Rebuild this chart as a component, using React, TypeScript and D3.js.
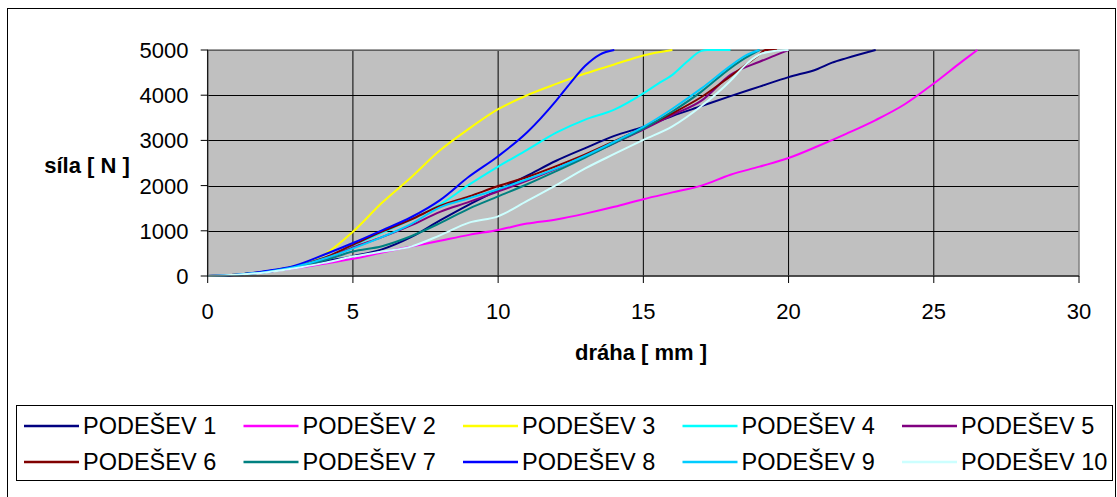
import React from "react";
import * as d3 from "d3";

// Force–displacement curves for ten sole samples (PODEŠEV 1–10)
type Pt = [number, number];

const xTicks = [0, 5, 10, 15, 20, 25, 30];
const yTicks = [0, 1000, 2000, 3000, 4000, 5000];

const seriesNames = [
  "PODEŠEV 1", "PODEŠEV 2", "PODEŠEV 3", "PODEŠEV 4", "PODEŠEV 5",
  "PODEŠEV 6", "PODEŠEV 7", "PODEŠEV 8", "PODEŠEV 9", "PODEŠEV 10",
];

const seriesColors = [
  "#000080", "#FF00FF", "#FFFF00", "#00FFFF", "#800080",
  "#800000", "#008080", "#0000FF", "#00CCFF", "#CCFFFF",
];

const podesev1: Pt[] = [[0,0],[1,30],[2,90],[3,190],[4,320],[5,440],[6,590],[7,860],[8,1230],[9,1580],[10,1900],[11,2220],[12,2550],[13,2830],[14,3100],[15,3300],[16,3540],[17,3760],[18,3980],[19,4190],[20,4400],[21,4580],[21.5,4720],[22,4820],[23,5000]];
const podesev2: Pt[] = [[0,0],[1,30],[2,90],[3,170],[4,270],[5,380],[6,520],[7,650],[8,780],[9,910],[10,1020],[11,1160],[12,1250],[13,1380],[14,1530],[15,1700],[16,1850],[17,2000],[18,2240],[19,2420],[20,2610],[21,2870],[22,3150],[23,3450],[24,3800],[25,4260],[26,4760],[26.5,5000]];
const podesev3: Pt[] = [[0,0],[1,30],[2,100],[3,220],[4,470],[5,980],[6,1620],[7,2180],[8,2780],[9,3260],[10,3690],[11,4000],[12,4250],[13,4480],[14,4680],[15,4880],[16,5000]];
const podesev4: Pt[] = [[0,0],[1,30],[2,100],[3,210],[4,400],[5,680],[6,960],[7,1250],[8,1580],[9,2020],[10,2420],[11,2790],[12,3170],[13,3460],[14,3680],[15,4040],[15.5,4250],[16,4450],[16.5,4740],[17,4980],[17.2,5000],[18,5000]];
const podesev5: Pt[] = [[0,0],[1,30],[2,90],[3,190],[4,360],[5,630],[6,860],[7,1120],[8,1420],[9,1640],[10,1870],[11,2110],[12,2370],[13,2640],[14,2940],[15,3240],[16,3560],[17,3880],[18,4450],[19,4740],[19.5,4870],[20,5000]];
const podesev6: Pt[] = [[0,0],[1,30],[2,100],[3,210],[4,400],[5,690],[6,980],[7,1250],[8,1550],[9,1760],[10,1990],[11,2190],[12,2430],[13,2690],[14,2980],[15,3280],[16,3600],[17,3960],[18,4420],[18.5,4660],[19,4900],[19.2,5000],[19.6,5000]];
const podesev7: Pt[] = [[0,0],[1,30],[2,90],[3,190],[4,340],[5,540],[6,660],[7,880],[8,1170],[9,1490],[10,1760],[11,2030],[12,2320],[13,2620],[14,2940],[15,3260],[16,3640],[17,4080],[18,4600],[18.5,4820],[19,5000]];
const podesev8: Pt[] = [[0,0],[1,30],[2,110],[3,230],[4,470],[5,730],[6,1010],[7,1300],[8,1680],[9,2200],[10,2650],[11,3180],[12,3880],[12.5,4280],[13,4650],[13.5,4900],[14,5000]];
const podesev9: Pt[] = [[0,0],[1,30],[2,90],[3,200],[4,380],[5,610],[6,860],[7,1150],[8,1520],[9,1720],[10,1920],[11,2140],[12,2380],[13,2660],[14,2970],[15,3300],[16,3700],[17,4150],[18,4650],[18.5,4870],[19,5000]];
const podesev10: Pt[] = [[0,0],[1,30],[2,80],[3,170],[4,290],[5,430],[6,540],[7,650],[8,900],[9,1180],[10,1320],[11,1660],[12,2010],[13,2380],[14,2700],[15,3010],[16,3310],[17,3760],[18,4320],[18.5,4660],[19,4900],[19.5,4980],[20,5000]];

const seriesData: Pt[][] = [
  podesev1, podesev2, podesev3, podesev4, podesev5,
  podesev6, podesev7, podesev8, podesev9, podesev10,
];

const FONT = "'Liberation Sans', Arial, sans-serif";

export default function App() {
  const W = 1117;
  const H = 497;
  const left = 207.7;
  const right = 1079;
  const top = 50;
  const bottom = 276;

  const x = d3.scaleLinear().domain([0, 30]).range([left, right]);
  const y = d3.scaleLinear().domain([0, 5000]).range([bottom, top]);

  const line = d3
    .line<Pt>()
    .x((d) => x(d[0]))
    .y((d) => y(d[1]))
    .curve(d3.curveMonotoneX);

  const legendX0 = 24;
  const legendStep = 219.5;
  const legendRows = [426, 462];

  return (
    <svg
      width={W}
      height={H}
      style={{ position: "absolute", left: 0, top: 0, background: "#fff" }}
      fontFamily={FONT}
    >
      {/* chart frame */}
      <rect x={7.5} y={8.5} width={1108} height={500} fill="#fff" stroke="#000" strokeWidth={1} />

      {/* plot area */}
      <rect x={left} y={top} width={right - left} height={bottom - top} fill="#C0C0C0" />

      {/* gridlines */}
      {yTicks.filter((t) => t > 0).map((t) => (
        <line key={"gy" + t} x1={left} x2={right} y1={Math.round(y(t)) + 0.5} y2={Math.round(y(t)) + 0.5} stroke="#000" strokeWidth={1} />
      ))}
      {xTicks.filter((t) => t > 0 && t < 30).map((t) => (
        <line key={"gx" + t} x1={x(t)} x2={x(t)} y1={top} y2={bottom} stroke="#000" strokeWidth={1} />
      ))}

      {/* plot border */}
      <rect x={left} y={top} width={right - left} height={bottom - top} fill="none" stroke="#808080" strokeWidth={1.5} />

      {/* series */}
      <defs>
        <clipPath id="plotclip">
          <rect x={left - 2} y={top - 2} width={right - left + 4} height={bottom - top + 4} />
        </clipPath>
      </defs>
      <g clipPath="url(#plotclip)">
        {seriesData.map((d, i) => (
          <path key={"s" + i} d={line(d) || ""} fill="none" stroke={seriesColors[i]} strokeWidth={2} strokeLinejoin="round" />
        ))}
      </g>

      {/* axes */}
      <line x1={left} x2={left} y1={top} y2={bottom} stroke="#000" strokeWidth={1} />
      <line x1={left} x2={right} y1={bottom} y2={bottom} stroke="#000" strokeWidth={1} />
      {yTicks.map((t) => (
        <g key={"ty" + t}>
          <line x1={left - 7} x2={left} y1={y(t)} y2={y(t)} stroke="#000" strokeWidth={1} />
          <text x={188.5} y={y(t)} dy="0.36em" textAnchor="end" fontSize={22} fill="#000">
            {t}
          </text>
        </g>
      ))}
      {xTicks.map((t) => (
        <g key={"tx" + t}>
          <line x1={x(t)} x2={x(t)} y1={bottom} y2={bottom + 7} stroke="#000" strokeWidth={1} />
          <text x={x(t)} y={311} dy="0.36em" textAnchor="middle" fontSize={22} fill="#000">
            {t}
          </text>
        </g>
      ))}

      {/* axis titles */}
      <text x={87} y={165} dy="0.36em" textAnchor="middle" fontSize={22} fontWeight="bold" fill="#000">
        síla [ N ]
      </text>
      <text x={641} y={352} dy="0.36em" textAnchor="middle" fontSize={22} fontWeight="bold" fill="#000">
        dráha [ mm ]
      </text>

      {/* legend */}
      <rect x={16.5} y={405.5} width={1096} height={75} fill="#fff" stroke="#000" strokeWidth={1} />
      {seriesNames.map((name, i) => {
        const col = i % 5;
        const row = Math.floor(i / 5);
        const lx = legendX0 + col * legendStep;
        const ly = legendRows[row];
        return (
          <g key={"lg" + i}>
            <line x1={lx} x2={lx + 55} y1={ly} y2={ly} stroke={seriesColors[i]} strokeWidth={2.5} />
            <text x={lx + 59} y={ly} dy="0.36em" fontSize={23.5} fill="#000">
              {name}
            </text>
          </g>
        );
      })}
    </svg>
  );
}
